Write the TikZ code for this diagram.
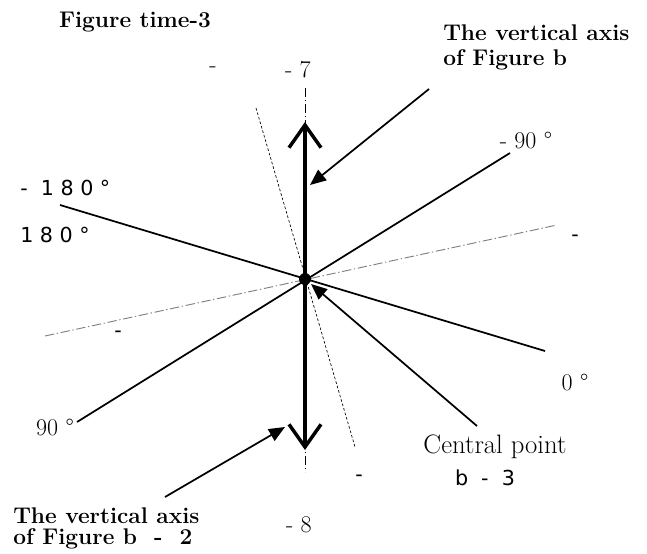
\documentclass[tikz,border=0pt]{standalone}
\usepackage{fontspec}
\newfontfamily\dvsans{DejaVu Sans}
\usetikzlibrary{arrows.meta}
\tikzset{
  axis/.style={line width=2.6pt, {Straight Barb[length=17pt,width=24pt]}-{Straight Barb[length=17pt,width=24pt]}},
  ray/.style={line width=1.3pt},
  cline/.style={gray, line width=0.7pt, dash pattern=on 7pt off 2pt on 1pt off 2pt},
  vline/.style={line width=0.6pt, dash pattern=on 7pt off 2pt on 1pt off 2pt},
  dline/.style={line width=0.5pt, dash pattern=on 2pt off 1.5pt},
  ptr/.style={line width=1.3pt, -{Triangle[length=12pt,width=10pt]}},
  hd/.style={font=\fontsize{17}{19}\selectfont\bfseries, align=left, inner sep=0pt, anchor=north west},
  lb/.style={font=\fontsize{18}{21}\selectfont, inner sep=0pt},
  sl/.style={font=\dvsans\fontsize{15.5}{18}\selectfont, inner sep=0pt}
}
\begin{document}
\begin{tikzpicture}[x=0.75pt,y=-0.75pt]
\useasboundingbox (0,0) rectangle (647,554);
\coordinate (c) at (305,279);
% line ends
\coordinate (a1) at (60,205);  \coordinate (a2) at (545,351);
\coordinate (b1) at (77,422);  \coordinate (b2) at (510,153);
\coordinate (g1) at (45,336);  \coordinate (g2) at (557,225);
\coordinate (d1) at (256,108); \coordinate (d2) at (355,447);
\coordinate (v1) at (305,88);  \coordinate (v2) at (305,472);
\coordinate (t1) at (305,122); \coordinate (t2) at (305,450);
% pointer ends
\coordinate (p1) at (429,89);  \coordinate (q1) at (310,185);
\coordinate (p2) at (165,497); \coordinate (q2) at (285,427);
\coordinate (p3) at (477,426); \coordinate (q3) at (311,284);

\draw[cline] (g1) -- (g2);
\draw[dline] (d1) -- (d2);
\draw[vline] (v1) -- (v2);
\draw[ray] (a1) -- (a2);
\draw[ray] (b1) -- (b2);
\draw[axis] (t2) -- (t1);
\fill (c) circle (6);
\draw[ptr] (p1) -- (q1);
\draw[ptr] (p2) -- (q2);
\draw[ptr] (p3) -- (q3);

\node[lb, font=\fontsize{17}{19}\selectfont\bfseries] (ttl) at (135,22) {Figure time-3};
\node[hd] (top) at (443,24) {The vertical axis\\of Figure b};
\node[hd, font=\fontsize{17}{16}\selectfont\bfseries] (bot) at (13,507) {The vertical axis\\of Figure b\ \ -\ \ 2};
\node[lb] (m1) at (213,70) {-};
\node[lb] (n7) at (298,70) {- 7};
\node[lb] (n8) at (299,525) {- 8};
\node[lb] (d90m) at (526,140) {- 90 °};
\node[lb] (d0) at (575,382) {0 °};
\node[lb] (d90) at (55,427) {90 °};
\node[lb, font=\fontsize{20}{23}\selectfont] (cp) at (495,447) {Central point};
\node[sl, anchor=west] (d180m) at (20,188) {-\ \ 1\ 8\ 0\ °};
\node[sl, anchor=west] (d180) at (20,235) {1\ 8\ 0\ °};
\node[sl] (m2) at (118,334) {-};
\node[sl] (m3) at (575,238) {-};
\node[sl] (m4) at (359,478) {-};
\node[sl] (b3) at (485,478) {b\ \ -\ \ 3};
\end{tikzpicture}
\end{document}
